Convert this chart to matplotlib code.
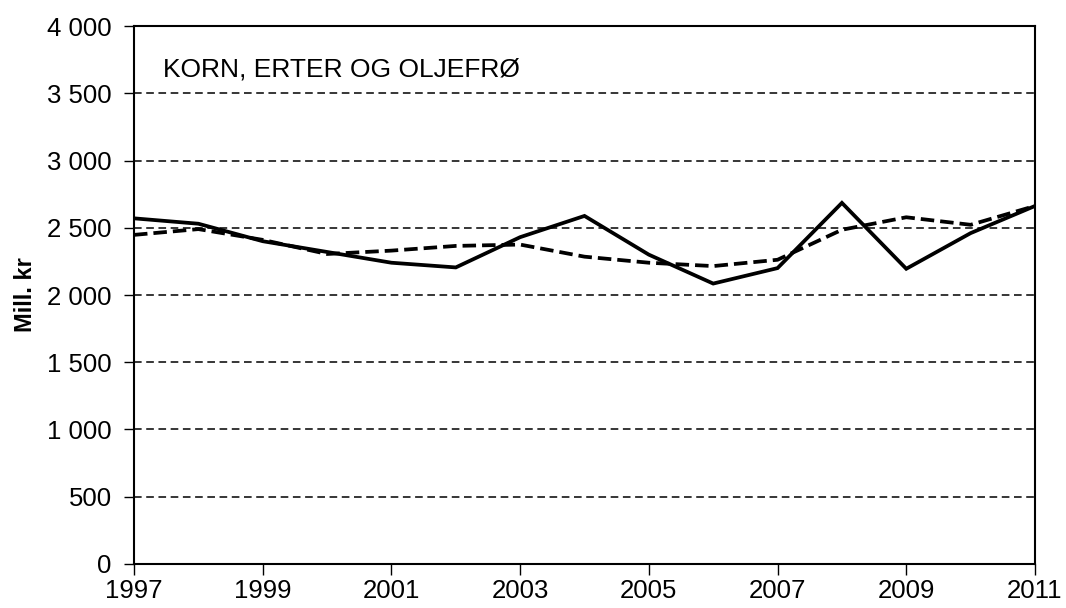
import matplotlib
matplotlib.use("Agg")
from matplotlib import pyplot as plt
from matplotlib.ticker import FuncFormatter

plt.rcParams['font.family'] = ['Liberation Sans', 'DejaVu Sans']

# data
years = list(range(1997, 2012))
verdi = [2570, 2530, 2400, 2320, 2240, 2205, 2430, 2588, 2300, 2085, 2200, 2685, 2195, 2460, 2662]
snitt = [2447, 2490, 2410, 2305, 2330, 2365, 2375, 2285, 2240, 2215, 2262, 2485, 2578, 2522, 2662]
yticks = [0, 500, 1000, 1500, 2000, 2500, 3000, 3500, 4000]
xticks = list(range(1997, 2012, 2))
tittel = "KORN, ERTER OG OLJEFRØ"


def space_thousands(v, pos):
    return f"{int(v):,}".replace(",", " ")


fig = plt.figure(figsize=(10.66, 6.08), dpi=100)
ax = fig.add_axes([0.1257, 0.0724, 0.8452, 0.8848])

# gridlines (skip the top one, the frame covers it)
for g in yticks[1:-1]:
    ax.axhline(g, color='black', lw=1.1, ls=(0, (5, 3)), zorder=1)

ax.plot(years, verdi, color='black', lw=2.7, solid_joinstyle='miter', zorder=3)
ax.plot(years, snitt, color='black', lw=2.7, ls=(0, (3.6, 1.6)), zorder=2)

ax.set_xlim(1997, 2011)
ax.set_ylim(0, 4000)
ax.set_xticks(xticks)
ax.set_yticks(yticks)
ax.yaxis.set_major_formatter(FuncFormatter(space_thousands))
ax.tick_params(axis='both', labelsize=18.5, direction='out', width=1.0)
ax.tick_params(axis='y', length=7, pad=9)
ax.tick_params(axis='x', length=8, pad=3)

for s in ax.spines.values():
    s.set_linewidth(1.5)

ax.set_ylabel("Mill. kr", fontsize=17, fontweight='bold', labelpad=7)
ax.text(0.032, 0.92, tittel, transform=ax.transAxes, fontsize=19, va='center', ha='left')

fig.savefig("out.png", dpi=100)
plt.close()
